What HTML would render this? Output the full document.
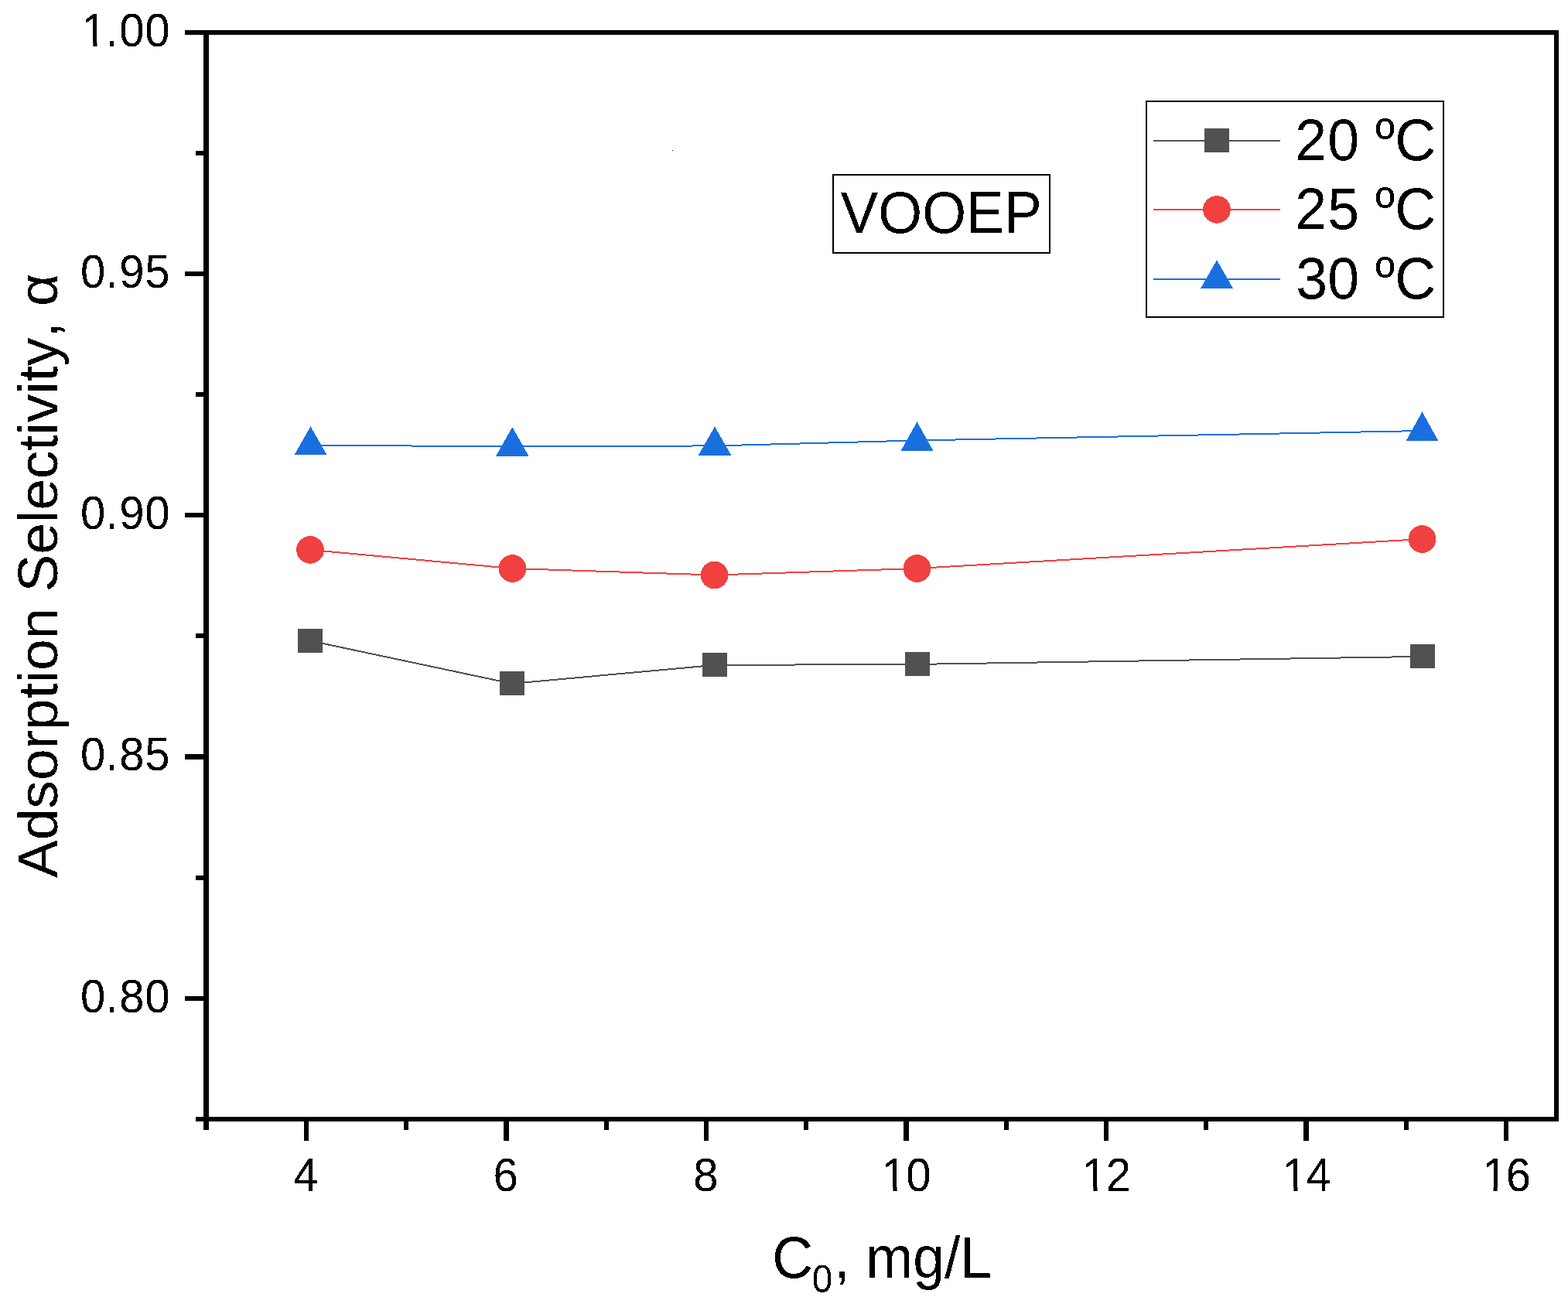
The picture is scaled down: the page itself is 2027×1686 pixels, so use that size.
<!DOCTYPE html>
<html><head><meta charset="utf-8"><title>Adsorption Selectivity vs C0</title>
<style>
html,body{margin:0;padding:0;background:#fff;}
body{width:2027px;height:1686px;overflow:hidden;}
svg{display:block;}
</style></head>
<body>
<svg width="2027" height="1686" viewBox="0 0 2027 1686">
<style>.m{shape-rendering:crispEdges} text{filter:url(#crisp);font-kerning:none;font-feature-settings:"kern" 0;}</style>
<defs><filter id="crisp" x="-5%" y="-5%" width="110%" height="110%" color-interpolation-filters="sRGB"><feComponentTransfer><feFuncA type="discrete" tableValues="0 1"/></feComponentTransfer></filter></defs>
<rect x="0" y="0" width="2027" height="1686" fill="#fff"/>
<g fill="#000">
<rect x="263" y="39" width="1752" height="6"/>
<rect x="263" y="1444" width="1752" height="6"/>
<rect x="263" y="39" width="7" height="1411"/>
<rect x="2009" y="39" width="6" height="1411"/>
<rect x="239" y="39" width="25" height="6"/>
<rect x="239" y="351" width="25" height="6"/>
<rect x="239" y="663" width="25" height="6"/>
<rect x="239" y="975" width="25" height="7"/>
<rect x="239" y="1288" width="25" height="6"/>
<rect x="253" y="195" width="11" height="6"/>
<rect x="253" y="507" width="11" height="6"/>
<rect x="253" y="819" width="11" height="6"/>
<rect x="253" y="1132" width="11" height="6"/>
<rect x="253" y="1444" width="11" height="6"/>
<rect x="393" y="1449" width="6" height="26"/>
<rect x="651" y="1449" width="7" height="26"/>
<rect x="910" y="1449" width="6" height="26"/>
<rect x="1168" y="1449" width="7" height="26"/>
<rect x="1427" y="1449" width="6" height="26"/>
<rect x="1685" y="1449" width="7" height="26"/>
<rect x="1944" y="1449" width="6" height="26"/>
<rect x="522" y="1449" width="6" height="12"/>
<rect x="781" y="1449" width="6" height="12"/>
<rect x="1039" y="1449" width="6" height="12"/>
<rect x="1298" y="1449" width="6" height="12"/>
<rect x="1556" y="1449" width="6" height="12"/>
<rect x="1815" y="1449" width="6" height="12"/>
<rect x="263" y="1449" width="7" height="12"/>
<rect x="869" y="194" width="1" height="1"/>
</g>
<polyline points="401,828.5 662,883.9 924,859.9 1185.5,858.9 1838.5,848.9" fill="none" stroke="#515151" stroke-width="2" shape-rendering="crispEdges"/>
<polyline points="401,710.9 662.4,735.0 923.5,743.5 1185.5,735.0 1838.5,697.0" fill="none" stroke="#f14040" stroke-width="2" shape-rendering="crispEdges"/>
<polyline points="401.5,576.0 662.5,577.0 924,576.45 1185.5,569.45 1838.5,557.0" fill="none" stroke="#1a6fdf" stroke-width="2" shape-rendering="crispEdges"/>
<rect x="385.5" y="813.5" width="31" height="30" fill="#515151" stroke="#515151" stroke-width="1" class="m"/>
<rect x="646.5" y="868.9" width="31" height="30" fill="#515151" stroke="#515151" stroke-width="1" class="m"/>
<rect x="908.5" y="844.9" width="31" height="30" fill="#515151" stroke="#515151" stroke-width="1" class="m"/>
<rect x="1170.0" y="843.9" width="31" height="30" fill="#515151" stroke="#515151" stroke-width="1" class="m"/>
<rect x="1823.0" y="833.9" width="31" height="30" fill="#515151" stroke="#515151" stroke-width="1" class="m"/>
<circle cx="401" cy="710.9" r="17.3" fill="#f14040" stroke="#f14040" stroke-width="1" class="m"/>
<circle cx="662.4" cy="735.0" r="17.3" fill="#f14040" stroke="#f14040" stroke-width="1" class="m"/>
<circle cx="923.5" cy="743.5" r="17.3" fill="#f14040" stroke="#f14040" stroke-width="1" class="m"/>
<circle cx="1185.5" cy="735.0" r="17.3" fill="#f14040" stroke="#f14040" stroke-width="1" class="m"/>
<circle cx="1838.5" cy="697.0" r="17.3" fill="#f14040" stroke="#f14040" stroke-width="1" class="m"/>
<polygon points="401.5,552.4 421.5,587.4 381.5,587.4" fill="#1a6fdf" stroke="#1a6fdf" stroke-width="1" class="m"/>
<polygon points="662.3,553.2 682.8,589.3 641.8,589.3" fill="#1a6fdf" stroke="#1a6fdf" stroke-width="1" class="m"/>
<polygon points="924,552.4 944.5,588.3 903.5,588.3" fill="#1a6fdf" stroke="#1a6fdf" stroke-width="1" class="m"/>
<polygon points="1185.5,546.4 1205.5,582.3 1165.5,582.3" fill="#1a6fdf" stroke="#1a6fdf" stroke-width="1" class="m"/>
<polygon points="1838.5,533.5 1858.5,569.4 1818.5,569.4" fill="#1a6fdf" stroke="#1a6fdf" stroke-width="1" class="m"/>
<text transform="translate(118.40,59.60) scale(0.9940,1.0350)" font-family="'Liberation Sans', Arial, sans-serif" font-size="58.5" x="-12.754 18.081 36.147 69.296" y="0">1.00</text>
<text transform="translate(120.25,371.85) scale(0.9940,1.0350)" font-family="'Liberation Sans', Arial, sans-serif" font-size="58.5" x="-16.267 16.219 34.300 67.492" y="0">0.95</text>
<text transform="translate(120.25,684.10) scale(0.9940,1.0350)" font-family="'Liberation Sans', Arial, sans-serif" font-size="58.5" x="-16.267 16.219 34.300 67.435" y="0">0.90</text>
<text transform="translate(120.25,996.35) scale(0.9940,1.0350)" font-family="'Liberation Sans', Arial, sans-serif" font-size="58.5" x="-16.267 16.219 34.286 67.492" y="0">0.85</text>
<text transform="translate(120.25,1308.60) scale(0.9940,1.0350)" font-family="'Liberation Sans', Arial, sans-serif" font-size="58.5" x="-16.267 16.219 34.286 67.435" y="0">0.80</text>
<text transform="translate(395.30,1539.60) scale(0.9940,1.0350)" font-family="'Liberation Sans', Arial, sans-serif" font-size="58.5" x="-16.082" y="0">4</text>
<text transform="translate(653.80,1539.60) scale(0.9940,1.0350)" font-family="'Liberation Sans', Arial, sans-serif" font-size="58.5" x="-16.467" y="0">6</text>
<text transform="translate(912.50,1539.60) scale(0.9940,1.0350)" font-family="'Liberation Sans', Arial, sans-serif" font-size="58.5" x="-16.267" y="0">8</text>
<text transform="translate(1152.50,1539.60) scale(0.9940,1.0350)" font-family="'Liberation Sans', Arial, sans-serif" font-size="58.5" x="-12.754 18.894" y="0">10</text>
<text transform="translate(1411.45,1539.60) scale(0.9940,1.0350)" font-family="'Liberation Sans', Arial, sans-serif" font-size="58.5" x="-12.754 18.441" y="0">12</text>
<text transform="translate(1670.45,1539.60) scale(0.9940,1.0350)" font-family="'Liberation Sans', Arial, sans-serif" font-size="58.5" x="-12.754 18.224" y="0">14</text>
<text transform="translate(1928.60,1539.60) scale(0.9940,1.0350)" font-family="'Liberation Sans', Arial, sans-serif" font-size="58.5" x="-12.754 18.191" y="0">16</text>
<rect x="108.98" y="54.78" width="11.36" height="6.02" fill="#fff"/>
<rect x="125.48" y="54.78" width="10.91" height="6.02" fill="#fff"/>
<rect x="1143.08" y="1534.78" width="11.36" height="6.02" fill="#fff"/>
<rect x="1159.58" y="1534.78" width="10.91" height="6.02" fill="#fff"/>
<rect x="1402.03" y="1534.78" width="11.36" height="6.02" fill="#fff"/>
<rect x="1418.53" y="1534.78" width="10.91" height="6.02" fill="#fff"/>
<rect x="1661.03" y="1534.78" width="11.36" height="6.02" fill="#fff"/>
<rect x="1677.53" y="1534.78" width="10.91" height="6.02" fill="#fff"/>
<rect x="1919.18" y="1534.78" width="11.36" height="6.02" fill="#fff"/>
<rect x="1935.68" y="1534.78" width="10.91" height="6.02" fill="#fff"/>
<text transform="translate(74.10,1134.90) rotate(-90) scale(1.0009,0.9900)" font-family="'Liberation Sans', Arial, sans-serif" font-size="73">Adsorption Selectivity, α</text>
<text transform="translate(998.30,1652.30) scale(0.9900,1.0350)" font-family="'Liberation Sans', Arial, sans-serif" font-size="74">C<tspan x="52.02" y="18.36" font-size="48.3">0</tspan><tspan x="81.01" y="0">, mg/L</tspan></text>
<rect x="1077" y="226" width="280" height="101" fill="none" stroke="#000" stroke-width="2"/>
<text transform="translate(1086.50,301.00) scale(0.9890,1.0350)" font-family="'Liberation Sans', Arial, sans-serif" font-size="74">VOOEP</text>
<rect x="1482" y="131" width="384" height="279" fill="none" stroke="#000" stroke-width="2"/>
<line x1="1491" y1="182" x2="1655" y2="182" stroke="#515151" stroke-width="2" shape-rendering="crispEdges"/>
<line x1="1491" y1="271" x2="1655" y2="271" stroke="#f14040" stroke-width="2" shape-rendering="crispEdges"/>
<line x1="1491" y1="361" x2="1655" y2="361" stroke="#1a6fdf" stroke-width="2" shape-rendering="crispEdges"/>
<rect x="1557.5" y="166.4" width="31" height="30" fill="#515151" stroke="#515151" stroke-width="1" class="m"/>
<circle cx="1573" cy="270.9" r="17.3" fill="#f14040" stroke="#f14040" stroke-width="1" class="m"/>
<polygon points="1573,337.2 1593.2,372.7 1552.8,372.7" fill="#1a6fdf" stroke="#1a6fdf" stroke-width="1" class="m"/>
<text transform="translate(1673.40,207.30) scale(0.9910,1.0350)" font-family="'Liberation Sans', Arial, sans-serif" font-size="74" x="0.81 43.20" y="0">20 <tspan x="105.65" y="-4.45" font-size="68.8">º</tspan><tspan x="130.95" y="0">C</tspan></text>
<text transform="translate(1673.40,296.40) scale(0.9910,1.0350)" font-family="'Liberation Sans', Arial, sans-serif" font-size="74" x="0.81 43.27" y="0">25 <tspan x="105.65" y="-4.45" font-size="68.8">º</tspan><tspan x="130.95" y="0">C</tspan></text>
<text transform="translate(1673.40,386.10) scale(0.9910,1.0350)" font-family="'Liberation Sans', Arial, sans-serif" font-size="74" x="1.94 43.20" y="0">30 <tspan x="105.65" y="-4.45" font-size="68.8">º</tspan><tspan x="130.95" y="0">C</tspan></text>
</svg>
</body></html>
